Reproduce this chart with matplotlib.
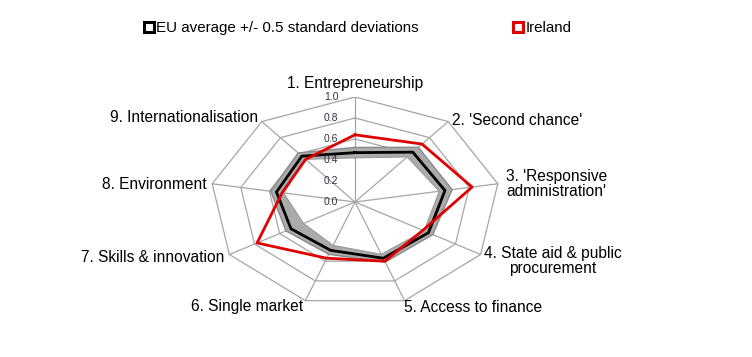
import numpy as np
import matplotlib.pyplot as plt
from matplotlib.lines import Line2D
from matplotlib.path import Path
from matplotlib.patches import PathPatch

plt.rc("font", **{"family": "sans-serif", "sans-serif": ["Liberation Sans", "DejaVu Sans"]})

categories = ["1. Entrepreneurship", "2. 'Second chance'", "3. 'Responsive\nadministration'",
              "4. State aid & public\nprocurement", "5. Access to finance", "6. Single market",
              "7. Skills & innovation", "8. Environment", "9. Internationalisation"]
ireland = [0.64, 0.72, 0.82, 0.54, 0.60, 0.57, 0.78, 0.51, 0.53]
eu_avg = [0.47, 0.62, 0.63, 0.585, 0.57, 0.49, 0.51, 0.55, 0.57]
eu_upper = [0.52, 0.68, 0.68, 0.62, 0.61, 0.53, 0.55, 0.59, 0.61]
eu_lower = [0.42, 0.56, 0.59, 0.55, 0.53, 0.44, 0.41, 0.50, 0.53]
ticks = [0.0, 0.2, 0.4, 0.6, 0.8, 1.0]
rings = [0.6, 0.8, 1.0]

n = len(categories)
theta = np.arange(n)*2*np.pi/n


def xy(r):
    r = np.asarray(r, dtype=float)
    x = r*np.sin(theta)
    y = r*np.cos(theta)
    return np.append(x, x[0]), np.append(y, y[0])


fig = plt.figure(figsize=(7.52, 3.57), dpi=100)
# elliptical radar: centre (355, 202) px, radius 145 x 105 px
ax = fig.add_axes([210/752, (357-307)/357, 290/752, 210/357])
ax.set_xlim(-1, 1)
ax.set_ylim(-1, 1)
ax.axis("off")

grid_c = "#a6a6a6"
for r in rings:
    gx, gy = xy(np.full(n, r))
    ax.plot(gx, gy, c=grid_c, lw=0.9, zorder=1)
for t in theta:
    ax.plot([0, np.sin(t)], [0, np.cos(t)], c=grid_c, lw=0.9, zorder=1)

# band between lower and upper
ux, uy = xy(eu_upper)
lx, ly = xy(eu_lower)
verts = np.concatenate([np.column_stack([ux, uy]), np.column_stack([lx, ly])[::-1]])
codes = [Path.MOVETO] + [Path.LINETO]*(len(ux)-2) + [Path.CLOSEPOLY]
codes = codes + [Path.MOVETO] + [Path.LINETO]*(len(lx)-2) + [Path.CLOSEPOLY]
ax.add_patch(PathPatch(Path(verts, codes), fc="#ababab", ec="none", zorder=2))
ax.plot(ux, uy, c="#8a8a8a", lw=1.0, zorder=3)
ax.plot(lx, ly, c="#9a9a9a", lw=0.8, zorder=3)
mx, my = xy(eu_avg)
ax.plot(mx, my, c="k", lw=2.0, zorder=4)

rx, ry = xy(ireland)
ax.plot(rx, ry, c="#e00000", lw=2.0, zorder=5)

for v in ticks:
    ax.text(-0.115, v, "%.1f" % v, ha="right", va="center", fontsize=7.5, color="#333344", zorder=6)

# category labels
lab_pos = [(0.0, 1.13, "center", "center"),
           (0.67, 0.78, "left", "center"),
           (1.04, 0.17, "left", "center"),
           (0.89, -0.56, "left", "center"),
           (0.34, -1.0, "left", "center"),
           (-0.36, -1.0, "right", "center"),
           (-0.90, -0.53, "right", "center"),
           (-1.02, 0.17, "right", "center"),
           (-0.67, 0.8, "right", "center")]
for lab, (x, y, ha, va) in zip(categories, lab_pos):
    ax.text(x, y, lab, ha=ha, va=va, fontsize=11.2, multialignment="center",
            linespacing=1.0, clip_on=False)

handles = [Line2D([], [], ls="none", marker="s", ms=7, mfc="white", mec="k", mew=2.2),
           Line2D([], [], ls="none", marker="s", ms=7, mfc="white", mec="#e00000", mew=2.2)]
fig.legend(handles, ["EU average +/- 0.5 standard deviations", "Ireland"], loc="center",
           bbox_to_anchor=(0.476, 0.922), ncol=2, frameon=False, fontsize=10.9,
           handlelength=0.6, handletextpad=0.15, columnspacing=6.3)

fig.savefig("out.png")
plt.close(fig)
